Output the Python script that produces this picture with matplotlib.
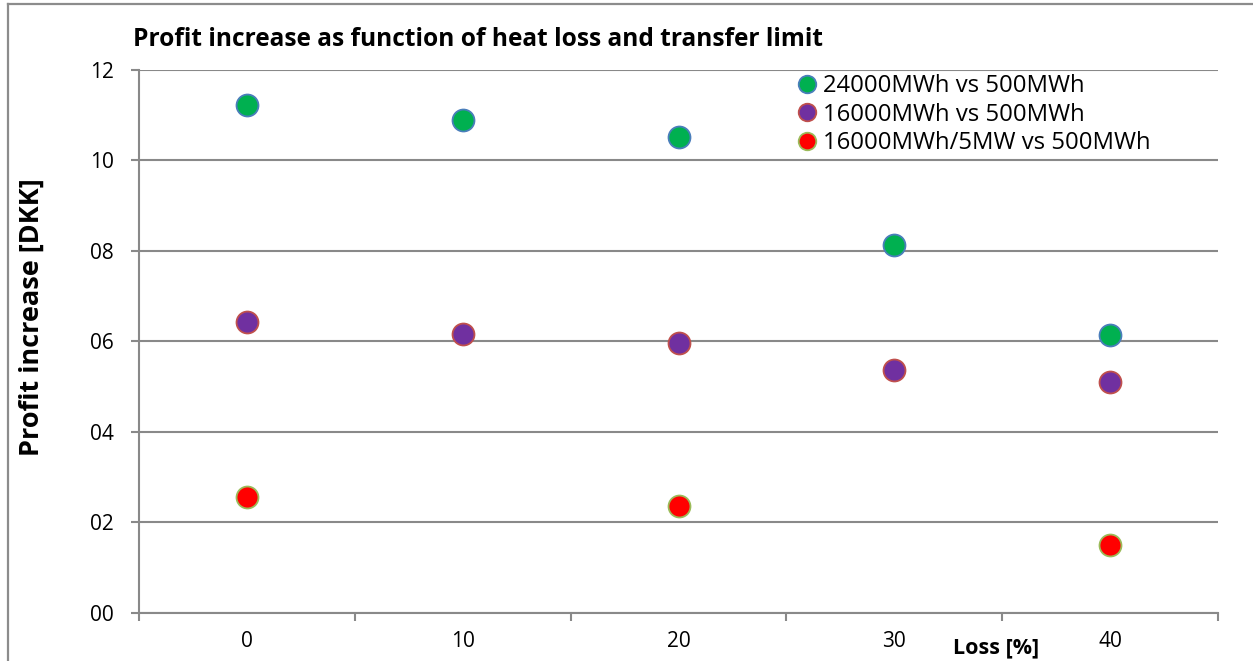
import matplotlib
matplotlib.use("Agg")
import matplotlib.pyplot as plt
from matplotlib.lines import Line2D

plt.rcParams['font.family'] = ['Open Sans', 'DejaVu Sans']

# Data
losses = ["0", "10", "20", "30", "40"]
ytick_values = [0, 2, 4, 6, 8, 10, 12]
ytick_labels = ["00", "02", "04", "06", "08", "10", "12"]

series_24000 = [11.22, 10.89, 10.52, 8.13, 6.14]
series_16000 = [6.43, 6.16, 5.96, 5.36, 5.10]
series_16000_5mw_idx = [0, 2, 4]
series_16000_5mw = [2.56, 2.36, 1.50]

labels = ["24000MWh vs 500MWh", "16000MWh vs 500MWh", "16000MWh/5MW vs 500MWh"]

W, H = 1253, 661
fig = plt.figure(figsize=(W / 100, H / 100), dpi=100)
fig.patch.set_facecolor("white")

def fx(px):
    return px / W

def fy(py):
    return 1 - py / H

PT = 100 / 72  # pixels per point

left, right, top, bottom = 139, 1218, 70, 612.7
ax = fig.add_axes([fx(left), fy(bottom), fx(right - left), (bottom - top) / H])

grid_c = "#898989"
x = list(range(len(losses)))

ms = 15.8
mew = 1.3
ax.plot(x, series_24000, "o", ms=ms, mfc="#00B050", mec="#4A7EBB", mew=mew,
        label=labels[0], zorder=3)
ax.plot(x, series_16000, "o", ms=ms, mfc="#7030A0", mec="#C0504D", mew=mew,
        label=labels[1], zorder=3)
ax.plot(series_16000_5mw_idx, series_16000_5mw, "o", ms=ms, mfc="#FF0000",
        mec="#9BBB59", mew=mew, label=labels[2], zorder=3)

ax.set_xlim(-0.5, len(losses) - 0.5)
ax.set_ylim(0, 12)

ax.set_yticks(ytick_values)
ax.set_yticklabels(ytick_labels)
ax.yaxis.grid(True, color=grid_c, lw=1.5)
ax.set_axisbelow(True)

ax.set_xticks(x)
ax.set_xticklabels(losses)
ax.set_xticks([i - 0.5 for i in range(len(losses) + 1)], minor=True)
ax.tick_params(axis="x", which="major", length=0, pad=13, labelsize=15)
ax.tick_params(axis="x", which="minor", length=8 / PT, width=1.5, color=grid_c,
               direction="out")
ax.tick_params(axis="y", length=8 / PT, width=1.5, color=grid_c, pad=12.5,
               labelsize=15, direction="out")

for side in ["top", "right"]:
    ax.spines[side].set_visible(False)
for side in ["left", "bottom"]:
    ax.spines[side].set_color(grid_c)
    ax.spines[side].set_linewidth(1.5)

fig.text(fx(133), fy(46), "Profit increase as function of heat loss and transfer limit",
         fontsize=17.65, fontweight="bold", ha="left", va="baseline")
fig.text(fx(32), fy(317), "Profit increase [DKK]", fontsize=19.5, fontweight="bold",
         rotation=90, ha="center", va="center")
fig.text(fx(996), fy(653), "Loss [%]", fontsize=15.5, fontweight="bold",
         ha="center", va="baseline")

leg = ax.legend(loc="upper left", bbox_to_anchor=(fx(795), fy(74)),
                bbox_transform=fig.transFigure, frameon=False, fontsize=17.2,
                handletextpad=0.17, labelspacing=0.19, markerscale=0.8,
                borderpad=0.0, borderaxespad=0.0, handlelength=1.0)

# outer chart border
fig.add_artist(Line2D([fx(8), fx(8)], [fy(4), 0], color="#8C8C8C", lw=1.6,
                      transform=fig.transFigure))
fig.add_artist(Line2D([fx(8), 1], [fy(4), fy(4)], color="#8C8C8C", lw=1.6,
                      transform=fig.transFigure))

fig.savefig("out.png", dpi=100)
